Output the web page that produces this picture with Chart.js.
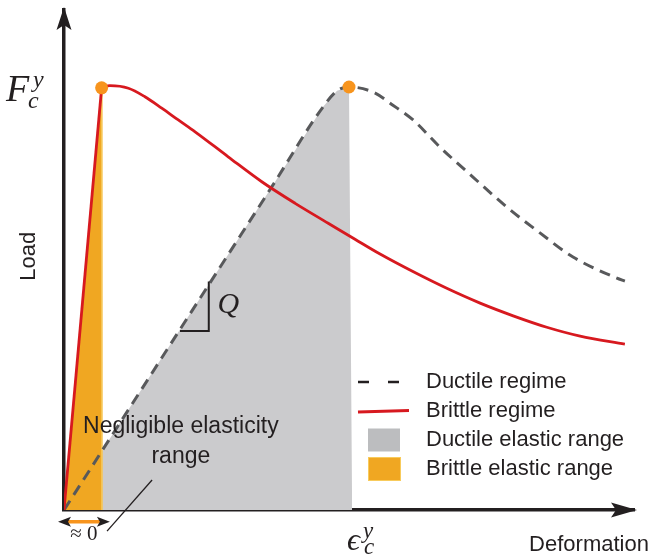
<!DOCTYPE html>
<html><head><meta charset="utf-8">
<script src="https://cdn.jsdelivr.net/npm/chart.js@4.4.0/dist/chart.umd.min.js"></script>
<style>html,body{margin:0;padding:0;background:#fff;overflow:hidden}</style>
</head><body>
<canvas id="c" width="656" height="554"></canvas>
<script>
// Deformation in units of eps_c^y, load in units of F_c^y
const ductileX = [0, 0.537, 0.730, 0.909, 0.958, 1.000, 1.084, 1.154, 1.225, 1.319, 1.435, 1.554, 1.670, 1.786, 1.940, 1.968];
const ductileY = [0, 0.563, 0.765, 0.953, 0.991, 1.000, 0.988, 0.957, 0.922, 0.858, 0.787, 0.716, 0.655, 0.598, 0.548, 0.541];
const brittleRiseX = [0, 0.132];
const brittleRiseY = [0, 0.998];
const brittleX = [0.132, 0.161, 0.226, 0.284, 0.343, 0.401, 0.460, 0.576, 0.694, 0.811, 0.927, 1.021, 1.109, 1.226, 1.343, 1.460, 1.576, 1.694, 1.811, 1.968];
const brittleY = [0.998, 1.003, 0.997, 0.977, 0.950, 0.922, 0.894, 0.835, 0.776, 0.725, 0.678, 0.640, 0.605, 0.563, 0.524, 0.489, 0.459, 0.432, 0.411, 0.392];
const ductileRangeX = [0, 0.537, 0.730, 0.909, 0.958, 1.000, 1.011];
const ductileRangeY = [0, 0.563, 0.765, 0.953, 0.991, 1.000, 0];
const brittleRangeX = [0, 0.132, 0.133];
const brittleRangeY = [0, 0.998, 0];
const peakX = [0.132, 1.0];
const peakY = [0.998, 1.0];
const legendLabels = ['Ductile regime', 'Brittle regime', 'Ductile elastic range', 'Brittle elastic range'];
const axisTitles = ['Deformation', 'Load'];

const pts = (xs, ys) => xs.map((x, i) => ({x: x, y: ys[i]}));

const INK = '#231F20';
const RED = '#D7191F';
const DASH = '#58595B';
const GRAY = '#CBCBCD';
const ORANGE = '#F0A722';
const MARK = '#F7941D';
const SANS = '"Liberation Sans", Arial, sans-serif';
const SERIF = '"Liberation Serif", "DejaVu Serif", serif';

function icon(draw) {
  const cv = document.createElement('canvas');
  cv.width = 56; cv.height = 26;
  const g = cv.getContext('2d');
  draw(g);
  return cv;
}
const icons = [
  icon(g => { g.strokeStyle = INK; g.lineWidth = 2.5; g.setLineDash([11, 19]); g.beginPath(); g.moveTo(1, 13); g.lineTo(56, 13); g.stroke(); }),
  icon(g => { g.strokeStyle = RED; g.lineWidth = 3; g.beginPath(); g.moveTo(1, 14); g.lineTo(52, 12.5); g.stroke(); }),
  icon(g => { g.fillStyle = '#BCBDBF'; g.fillRect(11, 1.5, 32, 23); }),
  icon(g => { g.fillStyle = ORANGE; g.fillRect(11, 1, 33, 24); g.strokeStyle = '#F8CB5C'; g.lineWidth = 1; g.strokeRect(11.5, 1.5, 32, 23); })
];

const decor = {
  id: 'decor',
  afterLayout(chart) {
    const L = chart.legend, ca = chart.chartArea;
    const w = L.width, h = L.height;
    L.left = ca.left + 284; L.top = ca.top + 354;
    L.right = L.left + w; L.bottom = L.top + h;
  },
  afterDraw(chart) {
    const ctx = chart.ctx, xs = chart.scales.x, ys = chart.scales.y, ca = chart.chartArea;
    const X = v => xs.getPixelForValue(v), Y = v => ys.getPixelForValue(v);
    ctx.save();
    ctx.fillStyle = INK; ctx.strokeStyle = INK;
    // axis arrowheads
    const ox = ca.left, ty = ca.top - 3;
    ctx.beginPath(); ctx.moveTo(ox, ty); ctx.lineTo(ox + 7.5, ty + 23); ctx.lineTo(ox, ty + 18); ctx.lineTo(ox - 7.5, ty + 23); ctx.closePath(); ctx.fill();
    const oy = ca.bottom, rx = ca.right + 3;
    ctx.beginPath(); ctx.moveTo(rx, oy); ctx.lineTo(rx - 26, oy - 7.5); ctx.lineTo(rx - 21, oy); ctx.lineTo(rx - 26, oy + 7.5); ctx.closePath(); ctx.fill();

    // slope triangle
    ctx.lineWidth = 2;
    ctx.beginPath(); ctx.moveTo(X(0.407), Y(0.423)); ctx.lineTo(X(0.508), Y(0.423)); ctx.lineTo(X(0.508), Y(0.540)); ctx.stroke();
    ctx.font = 'italic 30px ' + SERIF; ctx.textAlign = 'center'; ctx.textBaseline = 'alphabetic';
    ctx.fillText('Q', X(0.577), Y(0.465));

    // negligible elasticity annotation
    ctx.font = '23px ' + SANS; ctx.fillStyle = INK;
    ctx.fillText('Negligible elasticity', X(0.41), Y(0.181));
    ctx.fillText('range', X(0.41), Y(0.111));
    ctx.lineWidth = 1.3;
    ctx.beginPath(); ctx.moveTo(X(0.309), Y(0.071)); ctx.lineTo(X(0.151), Y(-0.050)); ctx.stroke();

    // ~0 double arrow
    const ay = Y(-0.028), ax1 = X(-0.021), ax2 = X(0.161);
    ctx.strokeStyle = MARK; ctx.lineWidth = 3.5;
    ctx.beginPath(); ctx.moveTo(ax1 + 8, ay); ctx.lineTo(ax2 - 8, ay); ctx.stroke();
    ctx.fillStyle = INK;
    ctx.beginPath(); ctx.moveTo(ax1, ay); ctx.lineTo(ax1 + 13, ay - 5); ctx.lineTo(ax1 + 10, ay); ctx.lineTo(ax1 + 13, ay + 5); ctx.closePath(); ctx.fill();
    ctx.beginPath(); ctx.moveTo(ax2, ay); ctx.lineTo(ax2 - 13, ay - 5); ctx.lineTo(ax2 - 10, ay); ctx.lineTo(ax2 - 13, ay + 5); ctx.closePath(); ctx.fill();
    ctx.font = '21px ' + SERIF; ctx.textAlign = 'center';
    ctx.fillText('\u2248 0', X(0.07), Y(0) + 30);

    // F_c^y
    ctx.textAlign = 'left';
    const fy = Y(1);
    ctx.font = 'italic 38px ' + SERIF;
    ctx.fillText('F', ca.left - 58, fy + 14);
    ctx.font = 'italic 24px ' + SERIF;
    ctx.fillText('y', ca.left - 31, fy);
    ctx.fillText('c', ca.left - 36, fy + 21);

    // eps_c^y
    const ex = X(1);
    ctx.font = 'italic 32px ' + SERIF;
    ctx.fillText('\u03F5', ex - 2, Y(0) + 40);
    ctx.font = 'italic 23px ' + SERIF;
    ctx.fillText('y', ex + 14, Y(0) + 28);
    ctx.fillText('c', ex + 15, Y(0) + 44);

    // axis titles
    ctx.font = '22px ' + SANS; ctx.fillStyle = INK;
    ctx.textAlign = 'left';
    ctx.fillText(axisTitles[0], X(1.632), Y(0) + 41);
    ctx.save();
    ctx.translate(ca.left - 35, Y(0.6));
    ctx.rotate(-Math.PI / 2);
    ctx.textAlign = 'center'; ctx.textBaseline = 'middle';
    ctx.fillText(axisTitles[1], 0, 0);
    ctx.restore();
    ctx.restore();
  }
};

new Chart(document.getElementById('c'), {
  type: 'line',
  data: {
    datasets: [
      { label: 'peaks', data: pts(peakX, peakY), showLine: false, pointRadius: 6.5, pointBackgroundColor: MARK, pointBorderWidth: 0, order: 0 },
      { label: legendLabels[1], data: pts(brittleX, brittleY), borderColor: RED, borderWidth: 2.8, pointRadius: 0, cubicInterpolationMode: 'monotone', fill: false, order: 1 },
      { label: legendLabels[1] + ' rise', data: pts(brittleRiseX, brittleRiseY), borderColor: RED, borderWidth: 2.8, pointRadius: 0, tension: 0, fill: false, order: 1 },
      { label: legendLabels[0], data: pts(ductileX, ductileY), borderColor: DASH, borderWidth: 3, borderDash: [11, 7], pointRadius: 0, cubicInterpolationMode: 'monotone', fill: false, order: 2 },
      { label: legendLabels[3], data: pts(brittleRangeX, brittleRangeY), borderColor: '#F6C555', borderWidth: 1, backgroundColor: ORANGE, pointRadius: 0, tension: 0, fill: 'origin', order: 3 },
      { label: legendLabels[2], data: pts(ductileRangeX, ductileRangeY), borderWidth: 0, borderColor: 'rgba(0,0,0,0)', backgroundColor: GRAY, pointRadius: 0, tension: 0, fill: 'origin', order: 4 }
    ]
  },
  options: {
    responsive: false,
    devicePixelRatio: 1,
    animation: false,
    layout: { padding: { left: 64, top: 10, right: 22, bottom: 44 } },
    scales: {
      x: { type: 'linear', min: 0, max: 2.0, grid: { display: false, drawTicks: false }, ticks: { display: false }, border: { display: true, color: INK, width: 3.5 } },
      y: { type: 'linear', min: 0, max: 1.182, grid: { display: false, drawTicks: false }, ticks: { display: false }, border: { display: true, color: INK, width: 3.5 } }
    },
    plugins: {
      tooltip: { enabled: false },
      legend: {
        position: 'chartArea', align: 'start',
        labels: {
          usePointStyle: true, pointStyleWidth: 60, padding: 7,
          font: { family: SANS, size: 22 }, color: INK,
          generateLabels: () => legendLabels.map((t, i) => ({ text: t, pointStyle: icons[i], fillStyle: 'rgba(0,0,0,0)', strokeStyle: 'rgba(0,0,0,0)', lineWidth: 0, hidden: false, fontColor: INK }))
        }
      }
    }
  },
  plugins: [decor]
});
</script>
</body></html>
